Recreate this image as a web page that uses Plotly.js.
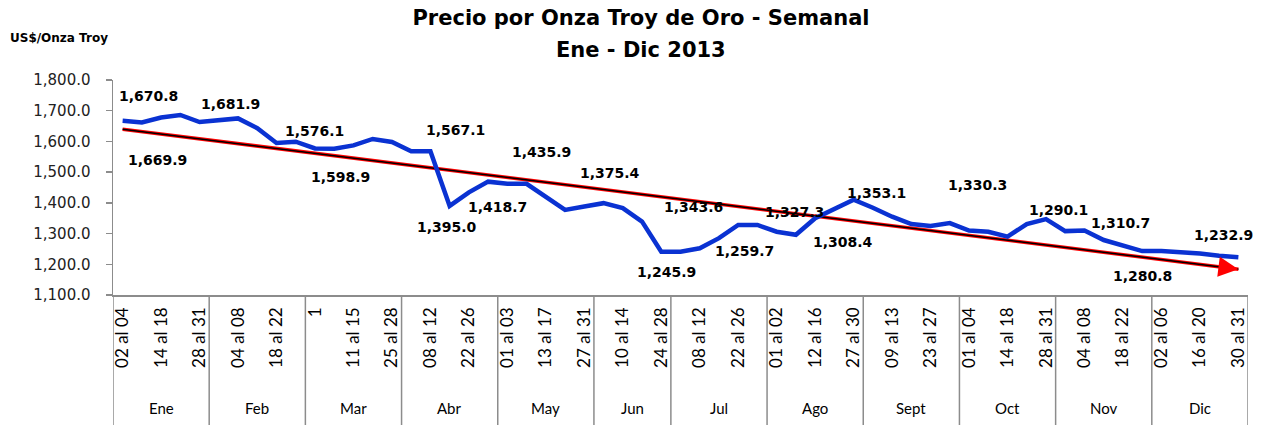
<!DOCTYPE html>
<html>
<head>
<meta charset="utf-8">
<script src="https://cdn.plot.ly/plotly-3.0.1.min.js"></script>
<style>html,body{margin:0;padding:0;background:#fff;}#chart{width:1269px;height:425px;}</style>
</head>
<body>
<div id="chart"></div>
<script>
// ---- data ----
const monthNames = ["Ene","Feb","Mar","Abr","May","Jun","Jul","Ago","Sept","Oct","Nov","Dic"];
const monthWeeks = [
  ["02 al 04","07 al 11","14 al 18","21 al 25","28 al 31"],
  ["01","04 al 08","11 al 15","18 al 22","25 al 28"],
  ["1","04 al 08","11 al 15","18 al 22","25 al 28"],
  ["01 al 05","08 al 12","15 al 19","22 al 26","29 al 30"],
  ["01 al 03","06 al 10","13 al 17","20 al 24","27 al 31"],
  ["03 al 07","10 al 14","17 al 21","24 al 28"],
  ["01 al 05","08 al 12","15 al 19","22 al 26","29 al 31"],
  ["01 al 02","05 al 09","12 al 16","19 al 23","27 al 30"],
  ["02 al 06","09 al 13","16 al 20","23 al 27","30"],
  ["01 al 04","07 al 11","14 al 18","21 al 25","28 al 31"],
  ["01","04 al 08","11 al 15","18 al 22","25 al 29"],
  ["02 al 06","09 al 13","16 al 20","23 al 27","30 al 31"]
];
const weeklyPrice = [
  1667,1662,1678,1686,1663, 1670,1675,1643,1595,1599,
  1577,1576,1587,1608,1598, 1568,1568,1390,1434,1469,
  1462,1462,1420,1377,1388, 1399,1383,1339,1241,
  1241,1252,1285,1328,1328, 1306,1296,1350,1379,1410,
  1384,1355,1331,1325,1334, 1310,1306,1290,1331,1347,
  1308,1310,1279,1260,1243, 1243,1240,1235,1228,1223
];
const trendLine = [1640, 1184]; // start, end of the trend
const labelText = ["1,670.8","1,669.9","1,681.9","1,576.1","1,598.9","1,567.1","1,395.0","1,418.7","1,435.9","1,375.4","1,343.6","1,245.9","1,259.7","1,327.3","1,308.4","1,353.1","1,330.3","1,290.1","1,310.7","1,280.8","1,232.9"];
const labelX = [1.37,1.79,5.62,10.0,11.3,17.28,16.84,19.51,21.78,25.33,29.65,28.28,32.35,34.95,37.44,39.19,44.46,48.67,51.88,53.02,57.24];
const labelY = [1746.6,1540,1722.7,1632.5,1485.8,1638,1322.7,1388,1567.2,1496.8,1388,1176,1244.4,1371.6,1271.8,1431.6,1458.7,1377,1333.8,1162,1295.6];

// ---- derived ----
const weeks = monthWeeks.flat();
const xs = weeks.map((_, i) => i);
const n = weeks.length;
const tickIdx = xs.filter(i => i % 2 === 0);
const tickTxt = tickIdx.map(i => weeks[i]);
const trendX = [0, n - 1];

const axisGray = '#8c8c8c';
const bottomPaper = -130 / 215;

const shapes = [];
const annotations = [];
let start = 0;
const bounds = [-0.5];
monthWeeks.forEach((w, m) => {
  const end = start + w.length;
  bounds.push(end - 0.5);
  annotations.push({
    x: (start + end - 1) / 2, xref: 'x', y: -113 / 215, yref: 'paper',
    text: monthNames[m], showarrow: false, yanchor: 'middle',
    font: {family: 'Lato, sans-serif', size: 15, color: '#000'}
  });
  start = end;
});
bounds.forEach(b => shapes.push({
  type: 'line', xref: 'x', yref: 'paper', x0: b, x1: b, y0: 0, y1: bottomPaper,
  line: {color: axisGray, width: 1.5}
}));

labelText.forEach((t, i) => annotations.push({
  x: labelX[i], y: labelY[i], xref: 'x', yref: 'y', text: t, showarrow: false,
  font: {family: 'DejaVu Sans, sans-serif', size: 14, color: '#000', weight: 'bold'}
}));

// arrow head on the trend line
const tailX = n - 1 - 0.8;
const tailY = trendLine[1] + (trendLine[0] - trendLine[1]) * (0.8 / (n - 1));
annotations.push({
  x: n - 1, y: trendLine[1], ax: tailX, ay: tailY, axref: 'x', ayref: 'y',
  xref: 'x', yref: 'y', text: '', showarrow: true, arrowhead: 2, arrowsize: 1.6,
  arrowwidth: 2.5, arrowcolor: '#ff0000', standoff: 0
});

annotations.push({
  x: (641 - 113) / 1135, xref: 'paper', y: (295 - 50) / 215, yref: 'paper',
  text: 'Ene - Dic 2013', showarrow: false, yanchor: 'middle', xanchor: 'center',
  font: {family: 'DejaVu Sans, sans-serif', size: 21, color: '#000', weight: 'bold'}
});

annotations.push({
  x: (8 - 113) / 1135, xref: 'paper', y: (295 - 38) / 215, yref: 'paper',
  text: 'US$/Onza Troy', showarrow: false, xanchor: 'left', yanchor: 'middle',
  font: {family: 'DejaVu Sans, sans-serif', size: 12, color: '#000', weight: 'bold'}
});

const traces = [
  {x: trendX, y: trendLine, mode: 'lines', line: {color: '#ff0000', width: 3.5}, hoverinfo: 'skip'},
  {x: trendX, y: trendLine, mode: 'lines', line: {color: '#000000', width: 1.5}, hoverinfo: 'skip'},
  {x: xs, y: weeklyPrice, mode: 'lines', line: {color: '#0a32d2', width: 4.5}}
];

const layout = {
  width: 1269, height: 425,
  margin: {l: 113, r: 21, t: 80, b: 130},
  paper_bgcolor: '#fff', plot_bgcolor: '#fff',
  showlegend: false,
  title: {
    text: 'Precio por Onza Troy de Oro - Semanal',
    x: 641 / 1269, xanchor: 'center', xref: 'container',
    y: 1 - 18 / 425, yanchor: 'middle', yref: 'container',
    font: {family: 'DejaVu Sans, sans-serif', size: 21, color: '#000', weight: 'bold'}
  },
  xaxis: {
    range: [-0.5, n - 0.5], tickmode: 'array', tickvals: tickIdx, ticktext: tickTxt,
    tickangle: -90, ticks: '', showline: true, linecolor: axisGray, linewidth: 1.5,
    showgrid: false, zeroline: false, ticklabelstandoff: 4,
    tickfont: {family: 'Lato, sans-serif', size: 17, color: '#000'}
  },
  yaxis: {
    range: [1100, 1800], dtick: 100, tick0: 1100, tickformat: ',.1f',
    ticks: 'outside', ticklen: 6, tickcolor: axisGray, tickwidth: 1.5,
    showline: true, linecolor: axisGray, linewidth: 1.5, showgrid: false, zeroline: false,
    ticklabelstandoff: 12,
    tickfont: {family: 'DejaVu Sans, sans-serif', size: 15, color: '#222'}
  },
  shapes: shapes,
  annotations: annotations
};

Plotly.newPlot('chart', traces, layout, {displayModeBar: false, staticPlot: true});
</script>
</body>
</html>
